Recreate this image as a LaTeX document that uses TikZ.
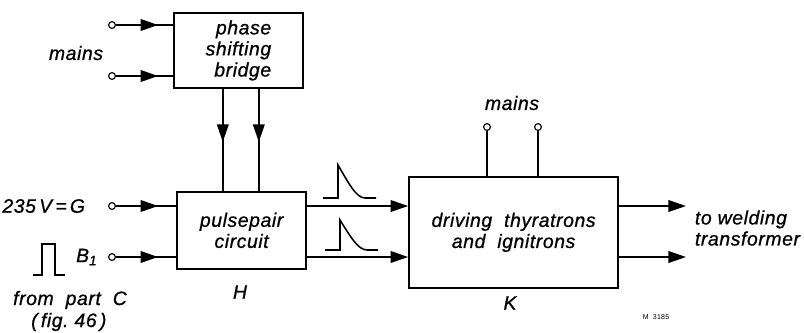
\documentclass[tikz,border=0pt]{standalone}
\usepackage{fontspec}
\setmainfont{Liberation Sans}[LetterSpace=3, ItalicFeatures={FakeBold=0.8}]
\usetikzlibrary{arrows.meta,decorations.markings}

\tikzset{
  block/.style={draw, line width=1.3pt, inner sep=0pt},
  wire/.style={line width=1.3pt},
  terminal/.style={draw, circle, fill=white, line width=0.8pt, inner sep=0pt, minimum size=0.17cm},
  tip/.style={-{Triangle[length=4.4mm,width=2.9mm]}},
  midarrow/.style={postaction={decorate}, decoration={markings,
      mark=at position #1 with {\arrow{Triangle[length=4.4mm,width=2.9mm]}}}},
  lbl/.style={font=\fontsize{13.8}{15}\selectfont\itshape},
}

\begin{document}
\begin{tikzpicture}
\useasboundingbox (0,0) rectangle (20.1,8.3);

% blocks
\node[block, lbl, align=right, minimum width=3.225cm, minimum height=1.875cm] (bridge) at (5.96,7.04) {phase\\shifting\\bridge};
\node[block, lbl, align=center, minimum width=3.225cm, minimum height=1.925cm] (pulse) at (6.04,2.54) {pulsepair\\circuit};
\node[block, lbl, align=center, minimum width=5.225cm, minimum height=2.775cm] (drive) at (12.84,2.49) {driving\ \ thyratrons\\and\ \ ignitrons};

% terminals
\node[terminal] (ma) at (2.8,7.675) {};
\node[terminal] (mb) at (2.8,6.4) {};
\node[terminal] (g) at (2.8,3.15) {};
\node[terminal] (b) at (2.8,1.875) {};
\node[terminal] (ka) at (12.175,5.125) {};
\node[terminal] (kb) at (13.45,5.125) {};
\coordinate (oa) at (17.15,3.15);
\coordinate (ob) at (17.15,1.875);

% inputs
\draw[wire, midarrow=0.74] (ma) -- (ma -| bridge.west);
\draw[wire, midarrow=0.74] (mb) -- (mb -| bridge.west);
\draw[wire, midarrow=0.7] (g) -- (g -| pulse.west);
\draw[wire, midarrow=0.7] (b) -- (b -| pulse.west);

% bridge to pulsepair
\draw[wire, midarrow=0.52] ([xshift=-0.39cm]bridge.south) -- ([xshift=-0.39cm]bridge.south |- pulse.north);
\draw[wire, midarrow=0.52] ([xshift=0.51cm]bridge.south) -- ([xshift=0.51cm]bridge.south |- pulse.north);

% pulsepair to drive
\draw[wire, tip] (pulse.east |- g) -- (drive.west |- g);
\draw[wire, tip] (pulse.east |- b) -- (drive.west |- b);

% mains on drive
\draw[wire] (ka) -- (ka |- drive.north);
\draw[wire] (kb) -- (kb |- drive.north);

% outputs
\draw[wire, tip] (drive.east |- oa) -- (oa);
\draw[wire, tip] (drive.east |- ob) -- (ob);

% pulses
\draw[line width=1.1pt] (8.075,3.35) -- (8.45,3.35) -- (8.45,4.175) .. controls (8.7,3.75) and (8.9,3.35) .. (9.125,3.35) -- (9.4,3.35);
\draw[line width=1.1pt] (8.125,2.05) -- (8.5,2.05) -- (8.5,2.8) .. controls (8.75,2.4) and (8.95,2.05) .. (9.175,2.05) -- (9.45,2.05);
\draw[line width=1.1pt] (0.825,1.425) -- (1.05,1.425) -- (1.05,2.2) -- (1.375,2.2) -- (1.375,1.425) -- (1.625,1.425);

% labels
\node[lbl] (mainsl) at (1.9,6.975) {mains};
\node[lbl] (mainsk) at (12.8,5.725) {mains};
\node[lbl, anchor=east] (gl) at (2.25,3.15) {235\,V\,=\,G};
\node[lbl, anchor=west] (bl) at (1.78,1.875) {B\textsubscript{1}};
\node[lbl] (from) at (1.75,0.8) {from\ \ part\ \ C};
\node[lbl] (fig) at (1.72,0.25) {(\,fig.\ 46\,)};
\node[lbl] (hl) at (6.0,1.0) {H};
\node[lbl] (kl) at (12.75,0.725) {K};
\node[lbl, anchor=west, align=left] (weld) at (17.25,2.6) {to\ welding\\transformer};
\node[font=\fontsize{5}{6}\selectfont] (code) at (16.4,0.38) {M\ \ 3185};
\end{tikzpicture}
\end{document}
